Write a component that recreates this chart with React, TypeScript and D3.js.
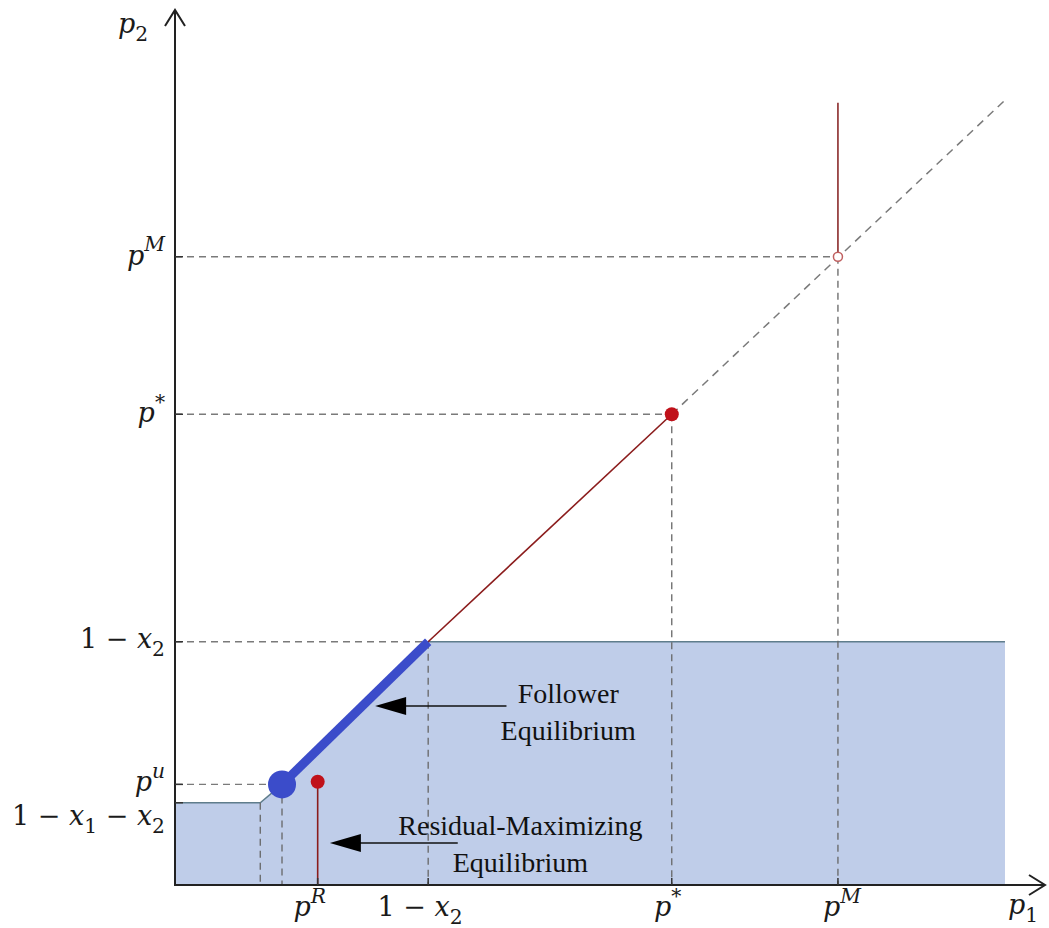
import React from "react";
import * as d3 from "d3";

const W = 1049;
const H = 928;

// ---- data (domain units, p1 on x, p2 on y) ----
const xTickValues = [0.164, 0.291, 0.571, 0.762];
const xTickLabels = ["p^R", "1 − x_2", "p^*", "p^M"];
const yTickValues = [0.718, 0.538, 0.278, 0.115, 0.094];
const yTickLabels = ["p^M", "p^*", "1 − x_2", "p^u", "1 − x_1 − x_2"];

// upper boundary of the shaded region
const regionP1 = [0, 0.098, 0.123, 0.291, 0.954];
const regionP2 = [0.094, 0.094, 0.115, 0.278, 0.278];

// follower equilibrium segment (thick blue)
const followerP1 = [0.123, 0.291];
const followerP2 = [0.115, 0.278];
// red best-response segment
const redP1 = [0.291, 0.571];
const redP2 = [0.278, 0.538];
// dashed 45-degree continuation
const diagP1 = [0.571, 0.954];
const diagP2 = [0.538, 0.897];
// vertical jump at p^M
const jumpP1 = [0.762, 0.762];
const jumpP2 = [0.718, 0.894];
// residual-maximizing point
const residualP1 = [0.164];
const residualP2 = [0.118];

// guide lines: horizontal (p2 level, to p1) and vertical (p1 level, from p2)
const hGuideP2 = [0.718, 0.538, 0.278, 0.115];
const hGuideP1 = [0.762, 0.571, 0.291, 0.123];
const vGuideP1 = [0.571, 0.762, 0.291, 0.098, 0.123];
const vGuideP2 = [0.538, 0.718, 0.278, 0.094, 0.115];

// annotations: arrow tip (p1,p2), tail p1, text anchor (p1,p2)
const annoLines = [["Follower", "Equilibrium"], ["Residual-Maximizing", "Equilibrium"]];
const annoTipP1 = [0.23, 0.178];
const annoTipP2 = [0.2046, 0.048];
const annoTailP1 = [0.381, 0.325];
const annoTextP1 = [0.452, 0.397];
const annoTextP2 = [0.208, 0.057];

// ---- layout ----
const x = d3.scaleLinear().domain([0, 1]).range([175, 1045]);
const y = d3.scaleLinear().domain([0, 1]).range([885, 10]);

const MATH_FONT = "'DejaVu Serif', serif";
const TEXT_FONT = "'Liberation Serif', 'Times New Roman', serif";
const FS = 27;

type Tok = { t: string; kind: "n" | "sup" | "sub"; it: boolean };
function tokenize(s: string): Tok[] {
  const out: Tok[] = [];
  for (let i = 0; i < s.length; i++) {
    const c = s[i];
    if (c === "^" || c === "_") {
      const n = s[i + 1];
      out.push({ t: n, kind: c === "^" ? "sup" : "sub", it: /[A-Za-z]/.test(n) });
      i++;
    } else {
      out.push({ t: c, kind: "n", it: /[A-Za-z]/.test(c) });
    }
  }
  const merged: Tok[] = [];
  for (const tk of out) {
    const last = merged[merged.length - 1];
    if (last && last.kind === tk.kind && last.it === tk.it) last.t += tk.t;
    else merged.push({ ...tk });
  }
  return merged;
}

function MathLabel({ s, px, py, anchor, fs = FS }: { s: string; px: number; py: number; anchor: string; fs?: number }) {
  const toks = tokenize(s);
  let cur = 0;
  const supShift = -0.5 * fs;
  const subShift = 0.3 * fs;
  const spans = toks.map((tk, i) => {
    const want = tk.kind === "sup" ? supShift : tk.kind === "sub" ? subShift : 0;
    const dy = want - cur;
    cur = want;
    return (
      <tspan
        key={i}
        dy={dy}
        fontStyle={tk.it ? "italic" : "normal"}
        fontSize={tk.kind === "n" ? fs : fs * 0.75}
      >
        {tk.t}
      </tspan>
    );
  });
  return (
    <text x={px} y={py} textAnchor={anchor} fontFamily={MATH_FONT} fill="#1a1a1a" style={{ whiteSpace: "pre" }}>
      {spans}
    </text>
  );
}

// label offsets (pixels) relative to tick positions
const xLabelDx = [-8, -8, -4, 4];
const yLabelDy = [8, 8, 6, 7, 22];

export default function App() {
  const line = d3.line<[number, number]>().x((d) => x(d[0])).y((d) => y(d[1]));
  const regionPts: [number, number][] = regionP1.map((v, i) => [v, regionP2[i]]);
  const areaPts: [number, number][] = [
    [0, 0],
    ...regionPts,
    [regionP1[regionP1.length - 1], 0],
  ];
  const x0 = x(0);
  const y0 = y(0);
  const gray = "#7a7a7a";
  const seg = (a: number[], b: number[]) => line(a.map((v, i) => [v, b[i]]) as [number, number][]) ?? "";

  return (
    <svg width={W} height={H} style={{ position: "absolute", left: 0, top: 0, background: "#fff" }}>
      {/* shaded region */}
      <path d={line(areaPts) + "Z"} fill="#bfcde9" stroke="none" />
      <path d={line(regionPts) ?? ""} fill="none" stroke="#5f7d8c" strokeWidth={1.5} />

      {/* guides */}
      {hGuideP2.map((v, i) => (
        <line key={"h" + i} x1={x0} x2={x(hGuideP1[i])} y1={y(v)} y2={y(v)} stroke={gray} strokeWidth={1.3} strokeDasharray="7,5" />
      ))}
      {vGuideP1.map((v, i) => (
        <line key={"v" + i} x1={x(v)} x2={x(v)} y1={y(vGuideP2[i])} y2={y0} stroke="#666" strokeWidth={1.3} strokeDasharray="7,5" />
      ))}

      {/* dashed diagonal */}
      <path d={seg(diagP1, diagP2)} stroke={gray} strokeWidth={1.5} strokeDasharray="8,6" fill="none" />

      {/* red segment */}
      <path d={seg(redP1, redP2)} stroke="#8b1c1c" strokeWidth={1.6} fill="none" />
      {/* vertical jump at pM */}
      <path d={seg(jumpP1, jumpP2)} stroke="#8b2a2a" strokeWidth={1.6} fill="none" />
      <circle cx={x(jumpP1[0])} cy={y(jumpP2[0])} r={4.5} fill="#fff" stroke="#c06060" strokeWidth={1.5} />
      <circle cx={x(redP1[1])} cy={y(redP2[1])} r={7} fill="#c0111a" />

      {/* residual maximizing */}
      {residualP1.map((v, i) => (
        <g key={"r" + i}>
          <line x1={x(v)} x2={x(v)} y1={y(residualP2[i])} y2={y0} stroke="#8b1c1c" strokeWidth={1.6} />
          <circle cx={x(v)} cy={y(residualP2[i])} r={7} fill="#c0111a" />
        </g>
      ))}

      {/* follower equilibrium */}
      <path d={seg(followerP1, followerP2)} stroke="#3b4cca" strokeWidth={9} fill="none" />
      <circle cx={x(followerP1[0])} cy={y(followerP2[0])} r={14} fill="#3b4cca" />

      {/* axes */}
      <line x1={x0} x2={x0} y1={y0 + 1} y2={y(1)} stroke="#222" strokeWidth={2} />
      <line x1={x0 - 1} x2={x(1)} y1={y0} y2={y0} stroke="#222" strokeWidth={2} />
      <polyline points={`${x0 - 10},${y(1) + 16} ${x0},${y(1)} ${x0 + 10},${y(1) + 16}`} fill="none" stroke="#222" strokeWidth={2} />
      <polyline points={`${x(1) - 16},${y0 - 10} ${x(1)},${y0} ${x(1) - 16},${y0 + 10}`} fill="none" stroke="#222" strokeWidth={2} />

      {/* ticks */}
      {yTickValues.map((v, i) => (
        <line key={"yt" + i} x1={x0} x2={x0 + 8} y1={y(v)} y2={y(v)} stroke="#333" strokeWidth={1.5} />
      ))}
      {xTickValues.map((v, i) => (
        <line key={"xt" + i} x1={x(v)} x2={x(v)} y1={y0} y2={y0 - 7} stroke="#333" strokeWidth={1.5} />
      ))}

      {/* tick labels */}
      {yTickValues.map((v, i) => (
        <MathLabel key={"yl" + i} s={yTickLabels[i]} px={x0 - 10} py={y(v) + yLabelDy[i]} anchor="end" />
      ))}
      {xTickValues.map((v, i) => (
        <MathLabel key={"xl" + i} s={xTickLabels[i]} px={x(v) + xLabelDx[i]} py={y0 + 31} anchor="middle" />
      ))}
      <MathLabel s="p_1" px={x(1) - 22} py={y0 + 29} anchor="middle" />
      <MathLabel s="p_2" px={x0 - 42} py={y(1) + 23} anchor="middle" />

      {/* annotations */}
      {annoLines.map((lines, i) => {
        const tx = x(annoTipP1[i]);
        const ty = y(annoTipP2[i]);
        const tail = x(annoTailP1[i]);
        const cx = x(annoTextP1[i]);
        const cy = y(annoTextP2[i]);
        return (
          <g key={"a" + i}>
            <line x1={tx + 20} x2={tail} y1={ty} y2={ty} stroke="#111" strokeWidth={1.6} />
            <polygon points={`${tx},${ty} ${tx + 31},${ty - 9} ${tx + 31},${ty + 9}`} fill="#000" />
            {lines.map((l, j) => (
              <text key={j} x={cx} y={cy + j * 37} textAnchor="middle" fontFamily={TEXT_FONT} fontSize={28} fill="#111">
                {l}
              </text>
            ))}
          </g>
        );
      })}
    </svg>
  );
}
